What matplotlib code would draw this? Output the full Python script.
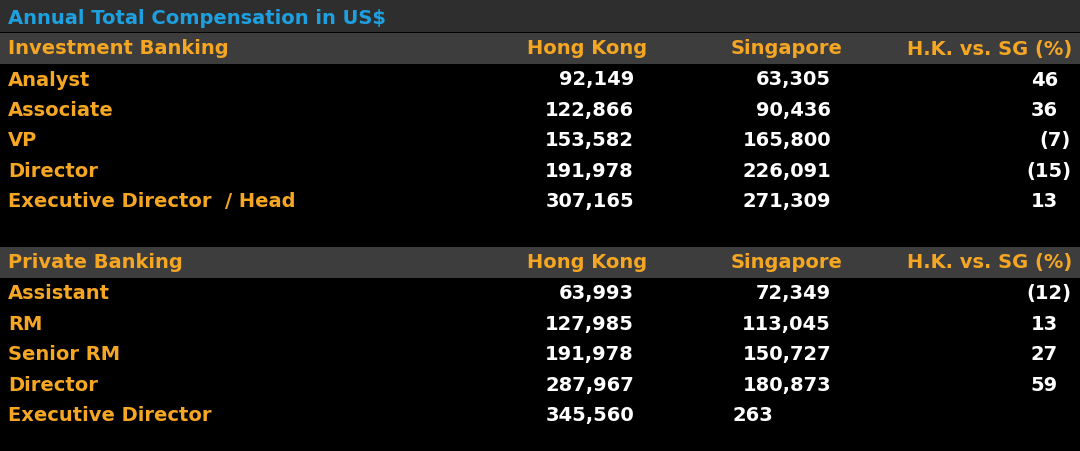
import matplotlib.pyplot as plt

TITLE = "Annual Total Compensation in US$"
COL_HEADERS = ["Hong Kong", "Singapore", "H.K. vs. SG (%)"]

IB_ROLES = ["Analyst", "Associate", "VP", "Director", "Executive Director  / Head"]
IB_HK = ["92,149", "122,866", "153,582", "191,978", "307,165"]
IB_SG = ["63,305", "90,436", "165,800", "226,091", "271,309"]
IB_DIFF = ["46", "36", "(7)", "(15)", "13"]

PB_ROLES = ["Assistant", "RM", "Senior RM", "Director", "Executive Director"]
PB_HK = ["63,993", "127,985", "191,978", "287,967", "345,560"]
PB_SG = ["72,349", "113,045", "150,727", "180,873", "263"]
PB_DIFF = ["(12)", "13", "27", "59", ""]

W, H = 1080, 452
ORANGE = "#f5a623"
BLUE = "#1ea0e0"
FS = 14

fig = plt.figure(figsize=(W / 100, H / 100), dpi=100, facecolor="black")
ax = fig.add_axes([0, 0, 1, 1])
ax.set_xlim(0, W)
ax.set_ylim(H, 0)
ax.axis("off")
ax.set_facecolor("black")


def txt(x, y, s, color="white", ha="left"):
    ax.text(x, y, s, color=color, ha=ha, va="center", fontsize=FS,
            fontweight="bold", family="DejaVu Sans")


def diff_text(y, s):
    if not s:
        return
    x = 1071 if s.startswith("(") else 1058
    txt(x, y, s, ha="right")


# title bar
ax.add_patch(plt.Rectangle((0, 0), W, 33, color="#2e2e2e", lw=0))
txt(8, 18, TITLE, color=BLUE)


def section(y_head, name, roles, hk, sg, diff):
    ax.add_patch(plt.Rectangle((0, y_head - 15), W, 31, color="#3d3d3d", lw=0))
    txt(8, y_head, name, color=ORANGE)
    txt(647, y_head, COL_HEADERS[0], color=ORANGE, ha="right")
    txt(843, y_head, COL_HEADERS[1], color=ORANGE, ha="right")
    txt(1072, y_head, COL_HEADERS[2], color=ORANGE, ha="right")
    for i, role in enumerate(roles):
        y = y_head + 31 + i * 30.5
        txt(8, y, role, color=ORANGE)
        txt(634, y, hk[i], ha="right")
        if diff[i]:
            txt(831, y, sg[i], ha="right")
        else:
            txt(733, y, sg[i])
        diff_text(y, diff[i])


section(49, "Investment Banking", IB_ROLES, IB_HK, IB_SG, IB_DIFF)
section(263, "Private Banking", PB_ROLES, PB_HK, PB_SG, PB_DIFF)

fig.savefig("out.png", dpi=100, facecolor="black")
